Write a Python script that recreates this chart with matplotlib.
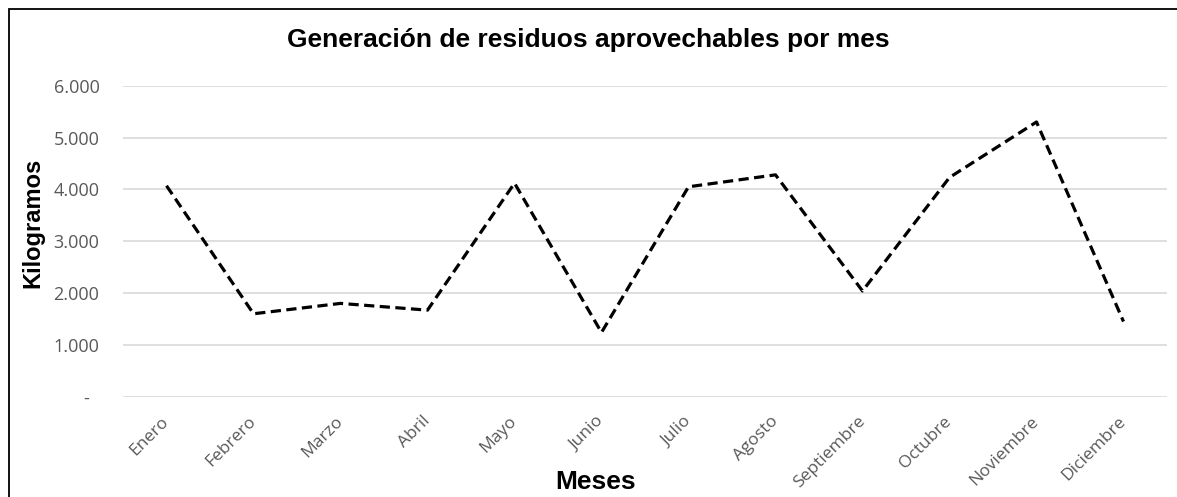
import matplotlib
matplotlib.use("Agg")
import matplotlib.pyplot as plt
from matplotlib.patches import Rectangle
from matplotlib.ticker import FixedLocator, FuncFormatter

months = ["Enero", "Febrero", "Marzo", "Abril", "Mayo", "Junio", "Julio",
          "Agosto", "Septiembre", "Octubre", "Noviembre", "Diciembre"]
kilos = [4070, 1600, 1800, 1670, 4120, 1240, 4050, 4280, 2040, 4230, 5300, 1450]
yticks = [0, 1000, 2000, 3000, 4000, 5000, 6000]

W, H = 1177, 497
fig = plt.figure(figsize=(W / 100, H / 100), dpi=100)
ax = fig.add_axes([123 / W, 1 - 396.7 / H, (1167 - 123) / W, (396.7 - 85.7) / H])

x = list(range(len(months)))
ax.plot(x, kilos, color="black", lw=2.3, linestyle=(0, (3.2, 1.7)), zorder=3)

ax.set_xlim(-0.5, len(months) - 0.5)
ax.set_ylim(0, 6000)
ax.yaxis.set_major_locator(FixedLocator(yticks))

def fmt(v, pos):
    if v == 0:
        return "-  "
    return f"{int(v):,}".replace(",", ".")

ax.yaxis.set_major_formatter(FuncFormatter(fmt))
ax.grid(axis="y", color="#d9d9d9", lw=1.2)
ax.set_axisbelow(True)
for s in ax.spines.values():
    s.set_visible(False)
ax.tick_params(axis="both", length=0)
ax.tick_params(axis="y", pad=17)
ax.set_xticks(x)
ax.set_xticklabels(months, rotation=45, ha="right", va="center",
                   rotation_mode="anchor", color="#595959",
                   fontsize=12.5, family="Open Sans")
ax.tick_params(axis="x", pad=16)
for lab in ax.get_yticklabels():
    lab.set_color("#595959")
    lab.set_fontsize(13)
    lab.set_family("Open Sans")

fig.text(588 / W, 1 - 40 / H, "Generación de residuos aprovechables por mes",
         ha="center", va="center", fontsize=19, fontweight="bold",
         family="Liberation Sans")
fig.text(596 / W, 1 - 482 / H, "Meses", ha="center", va="center",
         fontsize=19, fontweight="bold", family="Liberation Sans")
fig.text(33 / W, 1 - 223 / H, "Kilogramos", ha="center", va="center",
         rotation=90, fontsize=17, fontweight="bold", family="Liberation Sans")

fig.patches.append(Rectangle((8.5 / W, -0.2), 1.2, 1.2 - 9 / H,
                             transform=fig.transFigure, fill=False,
                             edgecolor="black", lw=1.3))

fig.savefig("out.png", dpi=100)
